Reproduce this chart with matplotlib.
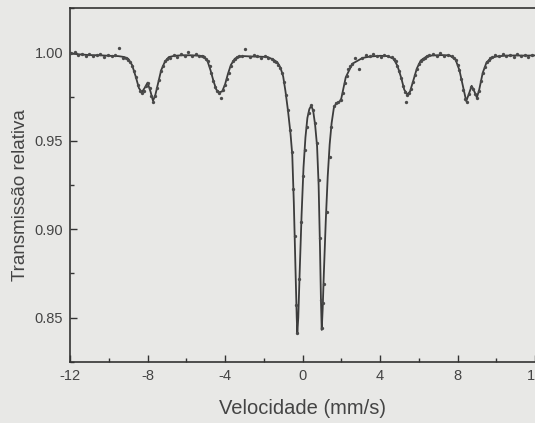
import numpy as np
import matplotlib
matplotlib.use("Agg")
import matplotlib.pyplot as plt
from matplotlib.ticker import MultipleLocator, FormatStrFormatter

plt.rcParams['font.family'] = ['Liberation Sans', 'DejaVu Sans']
plt.rcParams['axes.unicode_minus'] = False

# fitted curve (velocity mm/s, relative transmission)
vel_fit = [-12.0, -11.5, -11.0, -10.5, -10.0, -9.5, -9.2, -9.0, -8.8, -8.6, -8.45, -8.3, -8.15,
           -8.0, -7.85, -7.72, -7.6, -7.45, -7.3, -7.1, -6.9, -6.6, -6.2, -5.8, -5.4, -5.1,
           -4.9, -4.75, -4.6, -4.45, -4.3, -4.15, -4.0, -3.85, -3.7, -3.5, -3.3, -3.0, -2.6, -2.2,
           -1.8, -1.5, -1.3, -1.14, -1.0, -0.88, -0.75, -0.62, -0.53, -0.45, -0.37, -0.3, -0.27,
           -0.22, -0.15, -0.05, 0.05, 0.15, 0.25, 0.35, 0.45, 0.55, 0.65, 0.75, 0.83, 0.9, 0.95,
           0.99, 1.04, 1.1, 1.2, 1.3, 1.4, 1.5, 1.62, 1.75, 1.9, 2.0, 2.23, 2.57, 3.1, 3.5, 4.0,
           4.4, 4.7, 4.9, 5.1, 5.25, 5.42, 5.55, 5.7, 5.9, 6.1, 6.4, 6.7, 7.2, 7.6, 7.9, 8.1,
           8.3, 8.45, 8.6, 8.73, 8.87, 9.0, 9.12, 9.3, 9.5, 9.75, 10.0, 10.5, 11.0, 11.5, 12.0]
trans_fit = [0.9995, 0.9990, 0.9986, 0.9985, 0.9982, 0.9980, 0.9975, 0.9965, 0.9930, 0.9860,
             0.9800, 0.9775, 0.9800, 0.9830, 0.9780, 0.9727, 0.9760, 0.9830, 0.9900, 0.9950,
             0.9975, 0.9982, 0.9985, 0.9985, 0.9983, 0.9980, 0.9950, 0.9900, 0.9840, 0.9790,
             0.9775, 0.9780, 0.9820, 0.9880, 0.9930, 0.9965, 0.9978, 0.9980, 0.9978, 0.9977,
             0.9975, 0.9960, 0.9945, 0.9915, 0.9865, 0.9780, 0.9670, 0.9540, 0.9420, 0.9150,
             0.8800, 0.8500, 0.8410, 0.8500, 0.8750, 0.9080, 0.9350, 0.9520, 0.9630, 0.9680,
             0.9700, 0.9670, 0.9590, 0.9470, 0.9250, 0.8900, 0.8600, 0.8430, 0.8550, 0.8750,
             0.9050, 0.9300, 0.9480, 0.9600, 0.9690, 0.9715, 0.9720, 0.9740, 0.9860, 0.9937,
             0.9970, 0.9978, 0.9982, 0.9980, 0.9965, 0.9925, 0.9855, 0.9790, 0.9762, 0.9780,
             0.9835, 0.9910, 0.9955, 0.9978, 0.9984, 0.9986, 0.9984, 0.9960, 0.9900, 0.9800,
             0.9725, 0.9770, 0.9812, 0.9780, 0.9745, 0.9790, 0.9885, 0.9945, 0.9970, 0.9978,
             0.9983, 0.9984, 0.9983, 0.9984]

# measured points
vel_pts = [-11.95, -11.76, -11.57, -11.38, -11.19, -11.0, -10.81, -10.62, -10.43, -10.24, -10.05,
           -9.86, -9.67, -9.45, -9.29,
           -9.1, -9.0, -8.9, -8.8, -8.7, -8.6, -8.5, -8.4, -8.3, -8.2, -8.1, -8.0, -7.9, -7.8,
           -7.7, -7.6, -7.5, -7.4, -7.3, -7.2, -7.1, -7.0,
           -6.85, -6.66, -6.47, -6.28, -6.09, -5.9, -5.71, -5.52, -5.33,
           -5.2, -5.1, -5.0, -4.9, -4.8, -4.7, -4.6, -4.5, -4.4, -4.3, -4.2, -4.1, -4.0, -3.9,
           -3.8, -3.7, -3.6, -3.5, -3.4, -3.3,
           -3.1, -2.98, -2.72, -2.53, -2.34, -2.15, -1.96, -1.77, -1.58,
           -1.45, -1.35, -1.25, -1.15, -1.05, -0.95, -0.85, -0.75, -0.65, -0.55, -0.47, -0.40,
           -0.32, -0.27, -0.17, -0.07, 0.03, 0.12, 0.22, 0.33, 0.45, 0.55, 0.65, 0.76, 0.85,
           0.90, 0.96, 0.99, 1.05, 1.10, 1.24, 1.40, 1.49, 1.62, 1.72, 1.83, 1.97, 2.07, 2.17,
           2.27, 2.37, 2.47, 2.57,
           2.7, 2.89, 3.08, 3.27, 3.46, 3.65, 3.84, 4.03, 4.22, 4.41, 4.6,
           4.7, 4.8, 4.9, 5.0, 5.1, 5.2, 5.3, 5.35, 5.4, 5.5, 5.6, 5.7, 5.8, 5.9, 6.0, 6.1, 6.2,
           6.3, 6.4,
           6.55, 6.74, 6.93, 7.12, 7.31, 7.5, 7.69,
           7.8, 7.9, 8.0, 8.1, 8.2, 8.3, 8.4, 8.5, 8.6, 8.7, 8.8, 8.9, 9.0, 9.1, 9.2, 9.3, 9.4,
           9.5, 9.6, 9.7, 9.8,
           9.95, 10.14, 10.33, 10.52, 10.71, 10.9, 11.09, 11.28, 11.47, 11.66, 11.85]
trans_pts = [0.9995, 1.0003, 0.9988, 0.9992, 0.9981, 0.9990, 0.9978, 0.9986, 0.9993, 0.9975, 0.9984,
             0.9979, 0.9988, 1.0028, 0.9972,
             0.9968, 0.9960, 0.9945, 0.9925, 0.9895, 0.9860, 0.9815, 0.9785, 0.9770, 0.9785,
             0.9812, 0.9828, 0.9800, 0.9755, 0.9722, 0.9752, 0.9800, 0.9845, 0.9895, 0.9925,
             0.9950, 0.9965,
             0.9972, 0.9985, 0.9975, 0.9992, 0.9982, 1.0005, 0.9980, 0.9990, 0.9978,
             0.9980, 0.9975, 0.9962, 0.9950, 0.9922, 0.9885, 0.9840, 0.9805, 0.9785, 0.9772,
             0.9745, 0.9788, 0.9815, 0.9850, 0.9885, 0.9925, 0.9950, 0.9962, 0.9975, 0.9978,
             0.9982, 1.0020, 0.9975, 0.9985, 0.9978, 0.9970, 0.9980, 0.9972, 0.9962,
             0.9955, 0.9948, 0.9930, 0.9915, 0.9885, 0.9835, 0.9760, 0.9675, 0.9560, 0.9440,
             0.9230, 0.8960, 0.8570, 0.8415, 0.8720, 0.9040, 0.9300, 0.9450, 0.9580, 0.9660,
             0.9705, 0.9675, 0.9600, 0.9490, 0.9280, 0.8950, 0.8600, 0.8440, 0.8580, 0.8690,
             0.9100, 0.9410, 0.9580, 0.9700, 0.9715, 0.9722, 0.9730, 0.9770, 0.9830, 0.9870,
             0.9905, 0.9925, 0.9938,
             0.9968, 0.9905, 0.9972, 0.9988, 0.9978, 0.9990, 0.9980, 0.9975, 0.9986, 0.9978, 0.9975,
             0.9965, 0.9950, 0.9925, 0.9895, 0.9855, 0.9810, 0.9775, 0.9720, 0.9762, 0.9770,
             0.9795, 0.9835, 0.9875, 0.9910, 0.9935, 0.9955, 0.9965, 0.9972, 0.9978,
             0.9985, 0.9990, 0.9980, 0.9995, 0.9982, 0.9988, 0.9978,
             0.9970, 0.9958, 0.9930, 0.9900, 0.9850, 0.9790, 0.9738, 0.9722, 0.9765, 0.9808,
             0.9795, 0.9765, 0.9742, 0.9785, 0.9840, 0.9885, 0.9920, 0.9945, 0.9960, 0.9970,
             0.9975,
             0.9988, 0.9978, 0.9992, 0.9980, 0.9985, 0.9975, 0.9990, 0.9978, 0.9988, 0.9975, 0.9985]

bg = '#e8e8e6'
fig = plt.figure(figsize=(5.35, 4.23), dpi=100, facecolor=bg)
ax = fig.add_axes([0.131, 0.145, 0.869, 0.835])
ax.set_facecolor(bg)

ax.plot(vel_fit, trans_fit, color='#3c3c3c', lw=1.3, zorder=2)
ax.plot(vel_pts, trans_pts, 'o', ms=2.4, color='#4a4a4a', mew=0, zorder=3)

ax.set_xlim(-12, 12)
ax.set_ylim(0.825, 1.025)
ax.xaxis.set_major_locator(MultipleLocator(4))
ax.xaxis.set_minor_locator(MultipleLocator(2))
ax.yaxis.set_minor_locator(MultipleLocator(0.025))
ax.set_yticks([0.85, 0.90, 0.95, 1.00])
ax.yaxis.set_major_formatter(FormatStrFormatter('%.2f'))

ax.tick_params(which='both', direction='in', colors='#333333', labelcolor='#444444')
ax.tick_params(which='major', length=5, width=1.0, labelsize=10.5)
ax.tick_params(axis='x', which='major', pad=5)
ax.tick_params(axis='y', which='major', pad=5)
ax.tick_params(which='minor', length=3, width=1.0)

for s in ['left', 'bottom', 'top']:
    ax.spines[s].set_color('#333333')
    ax.spines[s].set_linewidth(1.2)
ax.spines['right'].set_visible(False)

ax.set_xlabel('Velocidade (mm/s)', fontsize=14.5, color='#444444', labelpad=12)
ax.set_ylabel('Transmissão relativa', fontsize=13.5, color='#444444')
ax.yaxis.set_label_coords(-0.088, 0.472)

fig.savefig('out.png', dpi=100, facecolor=bg)
